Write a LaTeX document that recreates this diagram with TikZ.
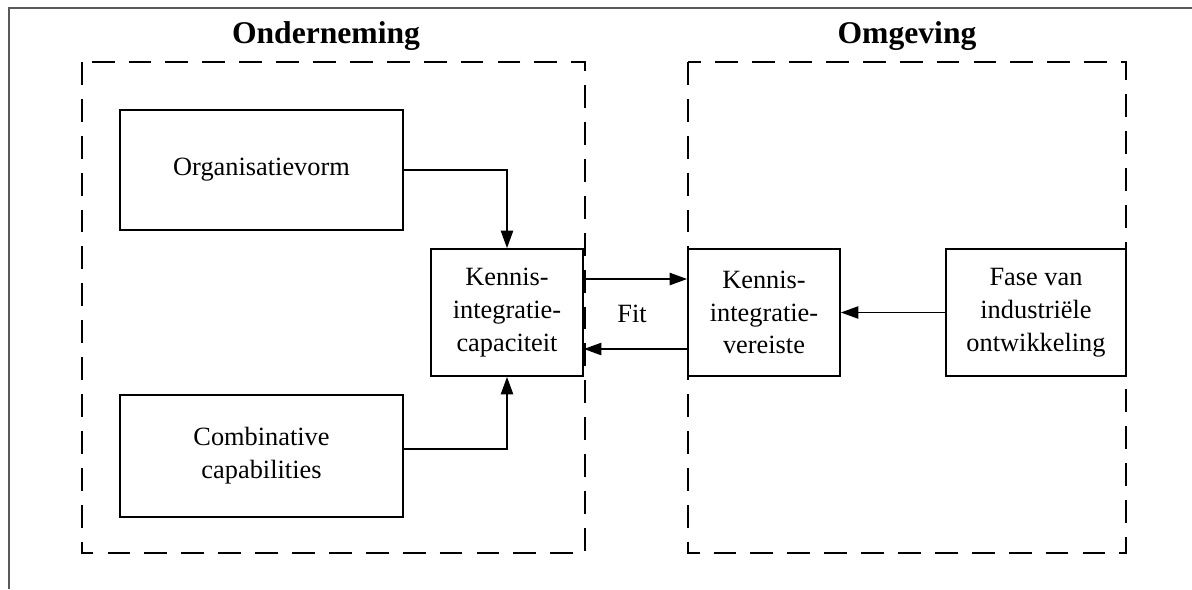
\documentclass[tikz,border=0pt]{standalone}
\usepackage{fontspec}
\setmainfont{Liberation Serif}
\usepackage{tikz}
\usetikzlibrary{arrows.meta}

\begin{document}
\begin{tikzpicture}[x=0.02cm,y=-0.02cm,
  blok/.style={draw,line width=1pt,align=center,inner sep=0pt,font=\fontsize{15}{18.7}\selectfont},
  pijl/.style={line width=1pt,-{Triangle[length=10pt,width=7pt]}},
  kader/.style={line width=1.1pt,dash pattern=on 13pt off 8pt}]
\useasboundingbox (0,0) rectangle (1192,589);
\draw[line width=0.6pt,gray!70!black] (9,589)--(9,8)--(1192,8);

\draw[kader] (82,62) rectangle (585,553);
\draw[kader] (688,62) rectangle (1126,553);

\node[font=\fontsize{18}{22}\selectfont\bfseries] (ond) at (326,36) {Onderneming};
\node[font=\fontsize{18}{22}\selectfont\bfseries] (omg) at (907,36) {Omgeving};

\node[blok,minimum width=5.66cm,minimum height=2.4cm] (ov) at (261.5,170) {Organisatievorm};
\node[blok,minimum width=5.66cm,minimum height=2.44cm] (cc) at (261.5,456) {Combinative\\capabilities};
\node[blok,minimum width=3.04cm,minimum height=2.54cm] (kic) at (507,312.5) {Kennis-\\integratie-\\capaciteit};
\node[blok,minimum width=3.04cm,minimum height=2.54cm] (kiv) at (764,312.5) {Kennis-\\integratie-\\vereiste};
\node[blok,minimum width=3.6cm,minimum height=2.54cm] (fase) at (1036,312.5) {Fase van\\industriële\\ontwikkeling};
\node[font=\fontsize{15}{18}\selectfont] (fit) at (632,314) {Fit};

\draw[pijl] (ov.east) -| (kic.north);
\draw[pijl] ([yshift=0.14cm]cc.east) -| (kic.south);
\draw[pijl] ([yshift=0.67cm]kic.east) -- ([yshift=0.67cm]kiv.west);
\draw[pijl] ([yshift=-0.73cm]kiv.west) -- ([yshift=-0.73cm]kic.east);
\draw[pijl] (fase.west) -- (kiv.east);

\end{tikzpicture}
\end{document}
